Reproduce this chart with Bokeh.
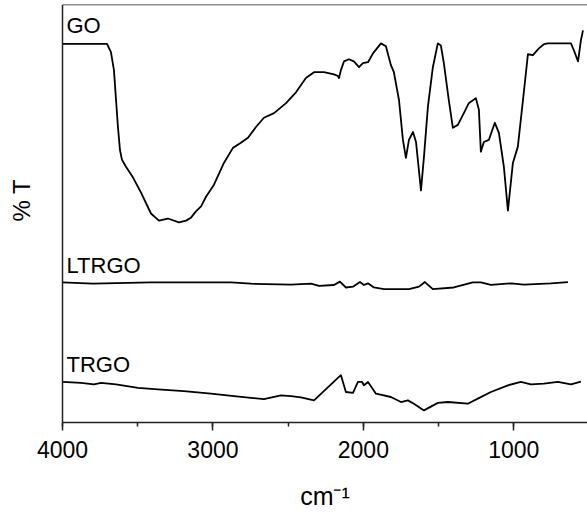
from bokeh.plotting import figure
from bokeh.models import Range1d, Label, SingleIntervalTicker, FixedTicker, Span, Title
from bokeh.embed import file_html
from bokeh.resources import INLINE

# ---- data (wavenumber in cm^-1, transmittance in arbitrary % units, offset per sample) ----
wn_go = [4000, 3704, 3678, 3658, 3644, 3631, 3618, 3605, 3578, 3531, 3478, 3412, 3359, 3299,
         3226, 3179, 3146, 3113, 3079, 3046, 2993, 2927, 2867, 2814, 2767, 2714, 2661, 2594,
         2514, 2448, 2382, 2328, 2262, 2195, 2169, 2162, 2149, 2129, 2096, 2063, 2029, 2003,
         1969, 1936, 1883, 1850, 1817, 1797, 1763, 1737, 1717, 1697, 1670, 1650, 1617, 1597,
         1571, 1538, 1505, 1485, 1465, 1432, 1405, 1372, 1332, 1299, 1252, 1232, 1219, 1199,
         1166, 1126, 1099, 1066, 1039, 1006, 973, 939, 906, 873, 833, 800, 773, 620, 600, 573,
         567, 554, 540]
t_go = [90.6, 90.6, 88.6, 84.3, 77.1, 70.5, 65.2, 62.9, 61.2, 58.6, 55.0, 50.0, 48.3, 48.8,
        47.9, 48.3, 49.0, 50.5, 51.7, 54.0, 56.9, 62.1, 65.7, 66.9, 68.1, 70.7, 72.9, 74.0,
        76.4, 79.0, 82.4, 83.8, 83.8, 83.3, 82.9, 82.4, 84.3, 86.4, 86.9, 86.4, 85.0, 86.0,
        86.2, 88.3, 90.7, 90.0, 85.5, 83.8, 77.1, 67.6, 63.3, 67.6, 69.5, 67.1, 55.5, 63.6,
        75.5, 85.0, 90.7, 90.2, 86.0, 77.1, 70.5, 71.2, 74.0, 76.4, 77.6, 74.8, 64.8, 67.1,
        67.6, 71.7, 69.3, 61.2, 50.7, 62.1, 66.0, 77.1, 88.1, 87.9, 89.5, 90.5, 90.7, 90.7,
        89.0, 86.4, 87.9, 91.4, 93.8]

wn_ltrgo = [4000, 3797, 3412, 2880, 2747, 2481, 2348, 2295, 2195, 2156, 2116, 2069, 2023,
            1996, 1969, 1930, 1863, 1697, 1630, 1591, 1538, 1399, 1272, 1219, 1152, 1019,
            933, 753, 640]
t_ltrgo = [33.5, 33.2, 33.5, 33.5, 33.2, 33.0, 33.2, 32.7, 32.9, 33.7, 32.3, 32.5, 33.6,
           32.9, 33.3, 32.3, 31.9, 31.9, 32.5, 33.6, 31.9, 32.3, 33.5, 33.5, 32.9, 33.3,
           33.0, 33.3, 33.6]

wn_trgo = [4000, 3877, 3791, 3744, 3644, 3498, 3365, 3193, 3013, 2860, 2661, 2548, 2481,
           2415, 2328, 2162, 2149, 2116, 2069, 2036, 2009, 1996, 1969, 1916, 1817, 1750,
           1704, 1664, 1597, 1505, 1438, 1306, 1239, 1152, 1039, 953, 886, 800, 707, 620, 554]
t_trgo = [9.7, 9.5, 9.1, 9.5, 9.1, 8.3, 7.9, 7.5, 6.9, 6.3, 5.6, 6.5, 6.3, 6.0, 5.3, 10.9,
          11.3, 7.3, 7.1, 9.7, 9.7, 8.9, 9.7, 6.9, 6.1, 4.9, 5.3, 4.5, 2.9, 4.7, 4.9, 4.5,
          5.7, 7.3, 8.9, 9.7, 9.1, 9.3, 9.7, 9.1, 9.8]

series_names = ["GO", "LTRGO", "TRGO"]
x_ticks_interval = 1000
x_label = "cm\u207b\u00b9"
y_label = "% T"

FONT = "Liberation Sans"
INK = "#000000"
AX = "#222222"

p = figure(width=587, height=512, output_backend="svg", toolbar_location=None,
           x_range=Range1d(4000, 510), y_range=Range1d(0, 100),
           min_border_left=62, min_border_right=0, min_border_top=4, min_border_bottom=88)
p.outline_line_color = None
p.xgrid.visible = False
p.ygrid.visible = False
p.background_fill_color = "white"
p.border_fill_color = "white"

for xs, ys in [(wn_go, t_go), (wn_ltrgo, t_ltrgo), (wn_trgo, t_trgo)]:
    p.line(xs, ys, line_color=INK, line_width=1.8, line_join="round")

# x axis
xa = p.xaxis[0]
xa.ticker = SingleIntervalTicker(interval=x_ticks_interval, num_minor_ticks=2)
xa.axis_line_color = AX
xa.axis_line_width = 1.5
xa.major_tick_line_color = AX
xa.major_tick_line_width = 1.5
xa.minor_tick_line_color = AX
xa.minor_tick_line_width = 1.5
xa.major_tick_in = 0
xa.major_tick_out = 8
xa.minor_tick_in = 0
xa.minor_tick_out = 4
xa.major_label_standoff = 10
xa.major_label_text_font = FONT
xa.major_label_text_font_size = "23px"
xa.major_label_text_color = "black"
xa.axis_label = x_label
xa.axis_label_text_font = FONT
xa.axis_label_text_font_size = "25px"
xa.axis_label_text_font_style = "normal"
xa.axis_label_text_color = "black"
xa.axis_label_standoff = 21

# y axis: only the visible line; one white tick at the top edge reserves room so the
# title further out sits where the reference has it
ya = p.yaxis[0]
ya.ticker = FixedTicker(ticks=[100])
ya.axis_line_color = AX
ya.axis_line_width = 1.5
ya.major_tick_line_color = "white"
ya.minor_tick_line_color = None
ya.major_tick_in = 0
ya.major_tick_out = 22
ya.minor_tick_in = 0
ya.minor_tick_out = 0
ya.major_label_text_font_size = "0px"
ya.major_label_text_color = None
ya.major_label_standoff = 0

p.add_layout(Title(text=y_label, align="left", offset=201, vertical_align="top", standoff=8,
                   text_font=FONT, text_font_size="24px", text_font_style="normal",
                   text_color="black"), "left")

# top border
p.add_layout(Span(location=100, dimension="width", line_color=AX, line_width=1.5))

# series labels
for name, yy in zip(series_names, [397, 157, 58]):
    p.add_layout(Label(x=4, y=yy, x_units="screen", y_units="screen", text=name,
                       text_font=FONT, text_font_size="22px", text_color="black",
                       text_baseline="alphabetic", text_align="left"))

open("out.html", "w").write(file_html(p, INLINE))
